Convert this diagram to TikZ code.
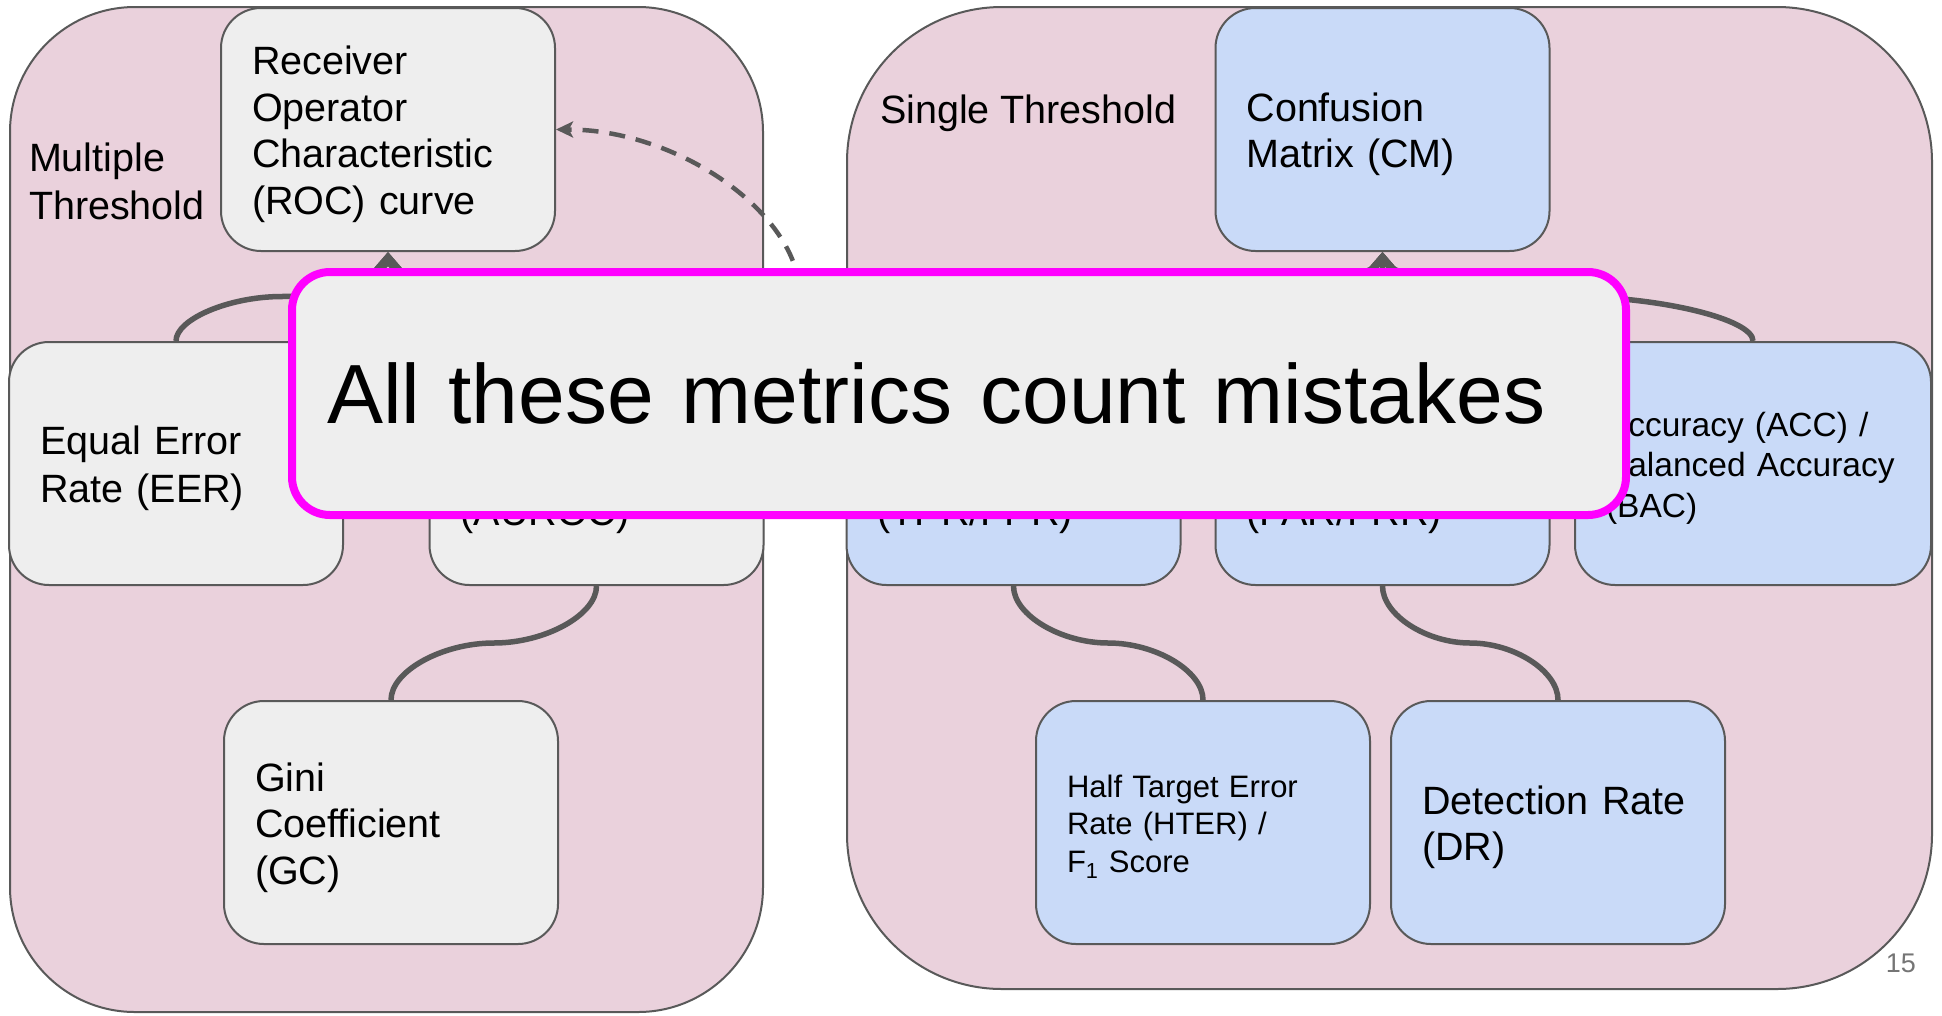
\documentclass[tikz,border=0pt]{standalone}
\usepackage{fontspec}
\setmainfont{Liberation Sans}
\usepackage{xcolor}
\usetikzlibrary{arrows.meta}

\definecolor{panelpink}{HTML}{EAD1DC}
\definecolor{boxgrey}{HTML}{EEEEEE}
\definecolor{boxblue}{HTML}{C9DAF8}
\definecolor{edgegrey}{HTML}{595959}
\definecolor{alertmagenta}{HTML}{FF00FF}
\definecolor{pagegrey}{HTML}{757575}

\newcommand{\tstrut}{\rule[-.172\baselineskip]{0pt}{\baselineskip}}

\tikzset{
  panel/.style={draw=edgegrey, line width=2pt, fill=panelpink, inner sep=0pt},
  metric/.style={draw=edgegrey, line width=2pt, rounded corners=40pt,
    minimum width=334pt, minimum height=243pt, text width=272pt,
    inner xsep=31pt, inner ysep=0pt, align=left,
    font=\fontsize{39.5}{46.5}\selectfont,
    execute at begin node=\tstrut, execute at end node=\tstrut},
  greybox/.style={metric, fill=boxgrey},
  bluebox/.style={metric, fill=boxblue},
  grouplabel/.style={inner sep=0pt, anchor=west, align=left,
    font=\fontsize{39.5}{47.5}\selectfont,
    execute at begin node=\tstrut, execute at end node=\tstrut},
  link/.style={draw=edgegrey, line width=5.5pt},
  into/.style={-{Straight Barb[length=15pt, width=26pt]}},
  alertbox/.style={draw=alertmagenta, line width=8pt, fill=boxgrey, rounded corners=38pt,
    minimum width=1334pt, minimum height=243pt, text width=1264pt,
    inner xsep=35pt, inner ysep=0pt, align=left, font=\fontsize{84}{100}\selectfont},
}

\begin{document}
\begin{tikzpicture}[x=1pt, y=-1pt]
  \useasboundingbox (0,0) rectangle (1942,1015);

  % the two groups
  \node[panel, minimum width=753pt, minimum height=1005pt, rounded corners=125pt] (multi) at (386.5,509.5) {};
  \node[panel, minimum width=1085pt, minimum height=982pt, rounded corners=155pt] (single) at (1389.5,498) {};

  \node[grouplabel] (multilabel) at (28.8,185.5) {Multiple\\Threshold};
  \node[grouplabel] (singlelabel) at (879.8,107.5) {Single Threshold};

  % multiple threshold metrics
  \node[greybox] (roc) at (388,129.5) {Receiver\\Operator\\Characteristic\\(ROC) curve};
  \node[greybox] (eer) at (176,463.5) {Equal Error\\Rate (EER)};
  \node[greybox] (auroc) at (596.5,463.5) {Area Under\\ROC Curve\\(AUROC)};
  \node[greybox] (gini) at (391,822.5) {Gini\\Coefficient\\(GC)};

  % single threshold metrics
  \node[bluebox] (cm) at (1382.5,129.5) {Confusion\\Matrix (CM)};
  \node[bluebox] (tpr) at (1013.5,463.5) {True/False\\Positive Rate\\(TPR/FPR)};
  \node[bluebox] (far) at (1382.5,463.5) {False Accept/\\Reject Rate\\(FAR/FRR)};
  \node[bluebox, minimum width=356pt, text width=294pt, font=\fontsize{33.5}{40.5}\selectfont] (acc) at (1753,463.5)
    {Accuracy (ACC) /\\Balanced Accuracy\\(BAC)};
  \node[bluebox, font=\fontsize{31}{37}\selectfont] (hter) at (1203,822.5)
    {Half Target Error\\Rate (HTER) /\\F\textsubscript{1} Score};
  \node[bluebox] (dr) at (1558,822.5) {Detection Rate\\(DR)};

  % curved links
  \draw[link, into] (eer.north) .. controls (176,319.25) and (229,296.5) .. (282,296.5)
    .. controls (335,296.5) and (388,273.75) .. (roc.south);
  \draw[link, into] (auroc.north) .. controls (596.5,319.25) and (544.4,296.5) .. (492.25,296.5)
    .. controls (440.1,296.5) and (388,273.75) .. (roc.south);
  \draw[link, into] (tpr.north) .. controls (1013.5,319.25) and (1105.75,296.5) .. (1198,296.5)
    .. controls (1290.25,296.5) and (1382.5,273.75) .. (cm.south);
  \draw[link, into] (far.north) -- (cm.south);
  \draw[link, into] (acc.north) .. controls (1753,319.25) and (1660.4,296.5) .. (1567.75,296.5)
    .. controls (1475.1,296.5) and (1382.5,273.75) .. (cm.south);

  \draw[link] (auroc.south) .. controls (596.5,615) and (545.1,643) .. (493.75,643)
    .. controls (442.4,643) and (391,671) .. (gini.north);
  \draw[link] (tpr.south) .. controls (1013.5,615) and (1060.9,643) .. (1108.25,643)
    .. controls (1155.6,643) and (1203,671) .. (hter.north);
  \draw[link] (far.south) .. controls (1382.5,615) and (1426.4,643) .. (1470.25,643)
    .. controls (1514.1,643) and (1558,671) .. (dr.north);

  \draw[edgegrey, line width=4.5pt, dash pattern=on 16pt off 11pt,
    -{Stealth[length=17pt, width=16pt, inset=4pt]}]
    (tpr.west) .. controls (823.5,463.5) and (800,380) .. (800,296.5)
    .. controls (800,213) and (677.5,129.5) .. (roc.east);

  % overlay
  \node[alertbox] (alert) at (959,393.5) {All these metrics count mistakes};

  \node[anchor=base east, inner sep=0pt, text=pagegrey, font=\fontsize{27}{32}\selectfont] (pagenum) at (1916,972) {15};
\end{tikzpicture}
\end{document}
